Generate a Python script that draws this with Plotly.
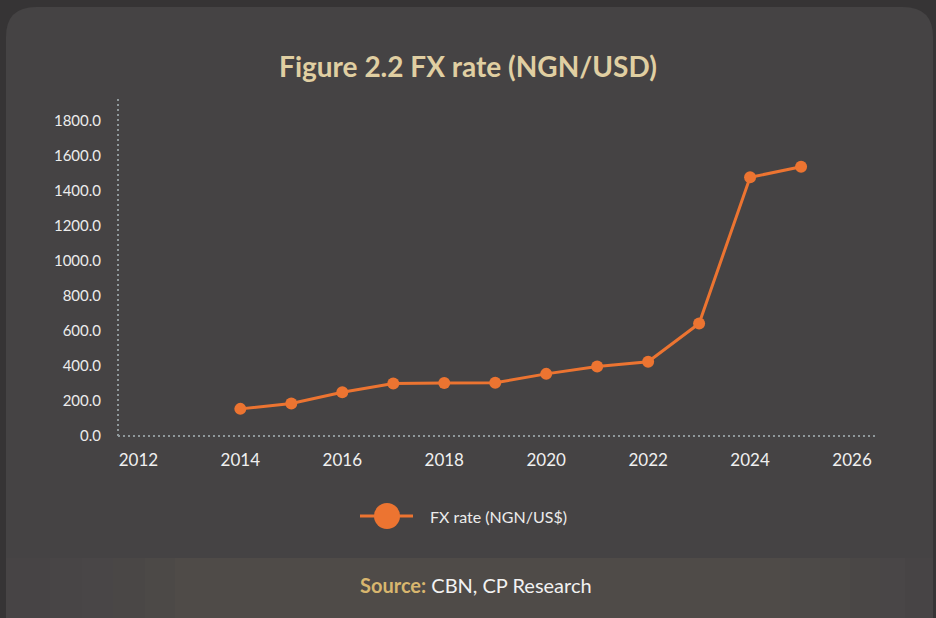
# FX rate chart (NGN/USD), dark card style
import plotly.graph_objects as go

years = [2014, 2015, 2016, 2017, 2018, 2019, 2020, 2021, 2022, 2023, 2024, 2025]
fx_rate = [155.0, 186.0, 250.0, 300.0, 303.0, 304.0, 355.0, 397.0, 424.0, 643.0, 1478.0, 1538.0]
x_ticks = [2012, 2014, 2016, 2018, 2020, 2022, 2024, 2026]
y_ticks = [0, 200, 400, 600, 800, 1000, 1200, 1400, 1600, 1800]
series_name = 'FX rate (NGN/US$)'

ORANGE = '#ec7431'
FONT = 'Lato'

# plot area in pixels (used to place the decorations)
L, R, T, B = 118, 876, 97, 436
W, H = R - L, B - T


def px(x):
    return (x - L) / W


def py(y):
    return (B - y) / H


fig = go.Figure()

fig.add_trace(go.Scatter(
    x=years, y=fx_rate,
    mode='lines+markers',
    name=series_name,
    line=dict(color=ORANGE, width=3),
    marker=dict(color=ORANGE, size=12),
    showlegend=False,
))

# card background with rounded top corners
r = 30
card = (f'M {px(6)},{py(660)} L {px(6)},{py(7 + r)} '
        f'Q {px(6)},{py(7)} {px(6 + r)},{py(7)} '
        f'L {px(933 - r)},{py(7)} '
        f'Q {px(933)},{py(7)} {px(933)},{py(7 + r)} '
        f'L {px(933)},{py(660)} Z')
shapes = [
    dict(type='path', path=card, xref='paper', yref='paper',
         fillcolor='#454344', line=dict(width=0), layer='below'),
]

# source band: soft horizontal gradient, lighter in the middle
band_steps = [
    (6, 50, '#474445'), (50, 82, '#484546'), (82, 113, '#494647'),
    (113, 145, '#4a4746'), (145, 175, '#4c4947'), (175, 790, '#4f4b48'),
    (790, 820, '#4d4a48'), (820, 850, '#4c4947'), (850, 880, '#4a4746'),
    (880, 905, '#494647'), (905, 933, '#474445'),
]
for x0, x1, col in band_steps:
    shapes.append(dict(type='rect', xref='paper', yref='paper',
                       x0=px(x0), x1=px(x1), y0=py(558), y1=py(660),
                       fillcolor=col, line=dict(width=0), layer='below'))

# dotted axis lines
shapes += [
    dict(type='line', xref='paper', yref='paper', x0=0, x1=0, y0=0, y1=1,
         line=dict(color='#8f989b', width=2, dash='2px,3px'), layer='below'),
    dict(type='line', xref='paper', yref='paper', x0=0, x1=1, y0=0, y1=0,
         line=dict(color='#8f989b', width=2, dash='2px,3px'), layer='below'),
]

# legend key drawn by hand so the marker can be as large as the original
shapes += [
    dict(type='line', xref='paper', yref='paper',
         x0=px(360), x1=px(413), y0=py(516), y1=py(516),
         line=dict(color=ORANGE, width=3)),
    dict(type='circle', xref='paper', yref='paper',
         x0=px(374), x1=px(400), y0=py(503), y1=py(529),
         fillcolor=ORANGE, line=dict(width=0)),
]

annotations = [
    dict(text=series_name, xref='paper', yref='paper',
         x=px(428), y=py(516), xanchor='left', yanchor='middle',
         showarrow=False, font=dict(family=FONT, size=16, color='#ececec')),
    dict(text='<b><span style="color:#d8b66e">Source:</span></b> CBN, CP Research',
         xref='paper', yref='paper', x=px(476), y=py(585),
         xanchor='center', yanchor='middle', showarrow=False,
         font=dict(family=FONT, size=20, color='#f2f2f2')),
]

fig.update_layout(
    width=936, height=618,
    margin=dict(l=L, r=936 - R, t=T, b=618 - B),
    paper_bgcolor='#363435',
    plot_bgcolor='rgba(0,0,0,0)',
    font=dict(family=FONT, color='#ececec'),
    title=dict(
        text='<b>Figure 2.2 FX rate (NGN/USD)</b>',
        x=0.5, xref='container', xanchor='center',
        y=1 - 67 / 618, yref='container', yanchor='middle',
        font=dict(family=FONT, size=28, color='#e0cfa2'),
    ),
    showlegend=False,
    shapes=shapes,
    annotations=annotations,
)

fig.update_xaxes(
    range=[2011.6, 2026.47],
    tickvals=x_ticks,
    showgrid=False, zeroline=False, showline=False,
    tickfont=dict(size=17, color='#f0f0f0'),
    ticklabelstandoff=12,
)
fig.update_yaxes(
    range=[0, 1937],
    tickvals=y_ticks,
    tickformat='.1f',
    showgrid=False, zeroline=False, showline=False,
    tickfont=dict(size=15, color='#ececec'),
    ticklabelstandoff=16,
)

fig.write_html('out.html', config={'displayModeBar': False},
               post_script="document.body.style.margin='0px';")
